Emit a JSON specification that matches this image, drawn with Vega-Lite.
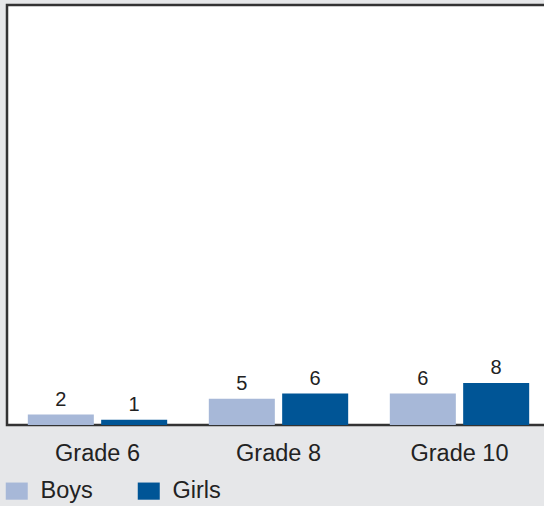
{
  "$schema": "https://vega.github.io/schema/vega-lite/v6.json",
  "autosize": "none",
  "width": 543,
  "height": 420,
  "padding": {"left": 7, "top": 5, "right": 0, "bottom": 81},
  "background": "#e6e7e9",
  "config": {
    "font": "Liberation Sans",
    "view": {"fill": "white", "stroke": "#333333", "strokeWidth": 2.5}
  },
  "data": {
    "values": [
      {"grade": "Grade 6", "sex": "Boys", "value": 2},
      {"grade": "Grade 6", "sex": "Girls", "value": 1},
      {"grade": "Grade 8", "sex": "Boys", "value": 5},
      {"grade": "Grade 8", "sex": "Girls", "value": 6},
      {"grade": "Grade 10", "sex": "Boys", "value": 6},
      {"grade": "Grade 10", "sex": "Girls", "value": 8}
    ]
  },
  "encoding": {
    "x": {
      "field": "grade", "type": "nominal", "sort": ["Grade 6", "Grade 8", "Grade 10"],
      "scale": {"paddingInner": 0.23, "paddingOuter": 0.115},
      "axis": {"title": null, "labelAngle": 0, "domain": false, "ticks": false, "labelFontSize": 23.5, "labelColor": "#222222", "labelPadding": 16}
    },
    "xOffset": {"field": "sex", "type": "nominal", "scale": {"paddingInner": 0.1, "paddingOuter": 0}},
    "y": {"field": "value", "type": "quantitative", "scale": {"domain": [0, 80], "nice": false}, "axis": null}
  },
  "layer": [
    {
      "mark": {"type": "bar"},
      "encoding": {
        "color": {
          "field": "sex", "type": "nominal",
          "scale": {"domain": ["Boys", "Girls"], "range": ["#a7b8d8", "#005596"]},
          "legend": {
            "title": null, "orient": "none", "direction": "horizontal",
            "legendX": -2, "legendY": 474,
            "symbolType": "M-1,-0.78H1V0.78H-1Z", "symbolSize": 484, "symbolStrokeWidth": 0,
            "labelFontSize": 23.5, "labelColor": "#222222", "labelOffset": 12,
            "columnPadding": 44, "symbolOpacity": 1
          }
        }
      }
    },
    {
      "mark": {"type": "text", "baseline": "bottom", "dy": -5, "fontSize": 20, "color": "#222222"},
      "encoding": {"text": {"field": "value", "type": "quantitative"}}
    }
  ]
}
